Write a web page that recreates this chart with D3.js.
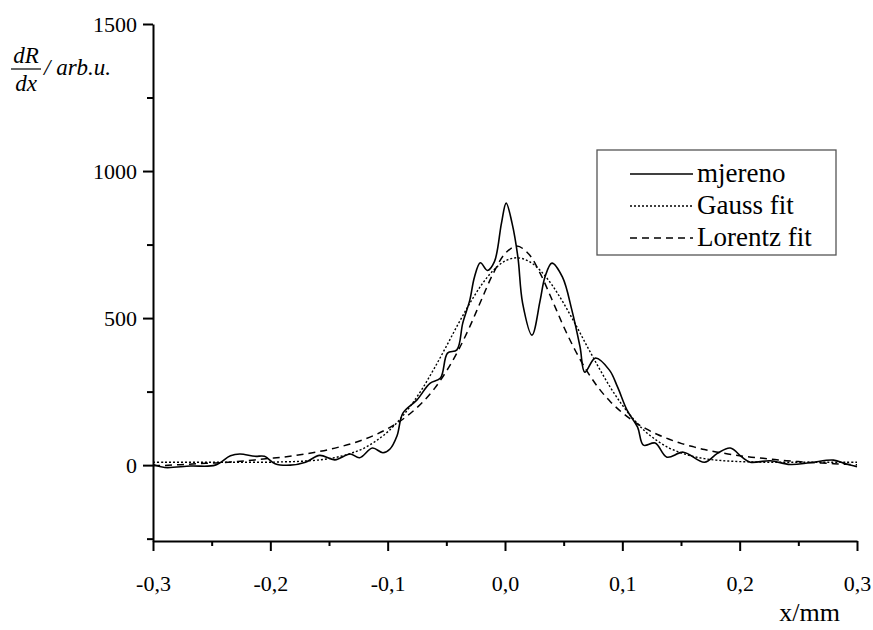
<!DOCTYPE html>
<html>
<head>
<meta charset="utf-8">
<script src="https://cdn.jsdelivr.net/npm/d3@7"></script>
<style>
  html, body { margin: 0; padding: 0; background: #fff; }
  svg { display: block; }
  svg text { font-family: "Liberation Serif", Tinos, "Times New Roman", Times, "DejaVu Serif", serif !important; fill: #000; }
</style>
</head>
<body>
<svg id="chart" width="873" height="630"></svg>
<script>
// ---- data ----
const measuredX = [-0.300,-0.290,-0.268,-0.247,-0.234,-0.226,-0.213,-0.205,-0.196,-0.183,-0.170,-0.158,-0.145,-0.132,-0.124,-0.113,-0.104,-0.098,-0.092,-0.087,-0.075,-0.064,-0.055,-0.049,-0.041,-0.036,-0.030,-0.026,-0.021,-0.015,-0.009,-0.003,0.001,0.006,0.011,0.015,0.023,0.030,0.034,0.040,0.049,0.057,0.064,0.068,0.077,0.089,0.096,0.104,0.113,0.118,0.128,0.138,0.152,0.170,0.181,0.192,0.202,0.209,0.226,0.243,0.260,0.280,0.290,0.300];
const measuredY = [2,-8,-3,0,32,38,30,30,5,0,10,33,18,38,25,58,42,55,100,177,222,278,296,381,392,483,561,640,688,662,692,823,891,823,707,551,442,561,639,687,639,527,401,316,364,323,265,187,129,68,75,27,44,10,40,58,27,10,15,2,8,17,5,-5];

const fitX = [-0.30,-0.29,-0.28,-0.27,-0.26,-0.25,-0.24,-0.23,-0.22,-0.21,-0.20,-0.19,-0.18,-0.17,-0.16,-0.15,-0.14,-0.13,-0.12,-0.11,-0.10,-0.09,-0.08,-0.07,-0.06,-0.05,-0.04,-0.03,-0.02,-0.01,0.00,0.01,0.02,0.03,0.04,0.05,0.06,0.07,0.08,0.09,0.10,0.11,0.12,0.13,0.14,0.15,0.16,0.17,0.18,0.19,0.20,0.21,0.22,0.23,0.24,0.25,0.26,0.27,0.28,0.29,0.30];
const gaussY = [10,10,10,10,10,10,10,10,10,10,10,11,12,14,17,22,30,42,58,82,113,154,204,263,331,404,479,550,613,662,694,705,694,662,613,550,479,404,331,263,204,154,113,82,58,42,30,22,17,14,12,11,10,10,10,10,10,10,10,10,10];
const lorentzY = [-2,-1,1,3,5,7,9,12,15,19,23,27,32,38,45,53,63,74,88,104,124,148,178,215,261,319,389,471,563,652,719,745,719,652,563,471,389,319,261,215,178,148,124,104,88,74,63,53,45,38,32,27,23,19,15,12,9,7,5,3,1];

const xMajorTicks = [-0.3,-0.2,-0.1,0.0,0.1,0.2,0.3];
const xMinorTicks = [-0.25,-0.15,-0.05,0.05,0.15,0.25];
const yMajorTicks = [0,500,1000,1500];
const yMinorTicks = [-250,250,750,1250];
const xDomain = [-0.3, 0.3];
const yDomain = [-258, 1500];

const seriesNames = ["mjereno", "Gauss fit", "Lorentz fit"];

// ---- drawing ----
const FONT = '"Liberation Serif", Tinos, "Times New Roman", Times, "DejaVu Serif", serif';
const svg = d3.select("#chart");
const x = d3.scaleLinear().domain(xDomain).range([153, 857]);
const y = d3.scaleLinear().domain(yDomain).range([541, 24]);

const fmtX = d => d3.format(".1f")(d).replace("\u2212", "-").replace(".", ",");

// curves
const line = d3.line().x(d => x(d[0])).y(d => y(d[1])).curve(d3.curveCatmullRom.alpha(0.5));
const measured = measuredX.map((v, i) => [v, measuredY[i]]);
const gauss = fitX.map((v, i) => [v, gaussY[i]]);
const lorentz = fitX.map((v, i) => [v, lorentzY[i]]);

const styles = [
  { dash: null, width: 1.6 },
  { dash: "2,2", width: 1.4 },
  { dash: "7,5", width: 1.5 }
];

const plot = svg.append("g");
[measured, gauss, lorentz].forEach((data, i) => {
  plot.append("path")
    .datum(data)
    .attr("d", line)
    .attr("fill", "none")
    .attr("stroke", "#000")
    .attr("stroke-width", styles[i].width)
    .attr("stroke-dasharray", styles[i].dash);
});

// x axis
const gx = svg.append("g").attr("transform", `translate(0,${y(yDomain[0])})`);
gx.call(d3.axisBottom(x).tickValues(xMajorTicks).tickSize(10).tickSizeOuter(0).tickPadding(24).tickFormat(fmtX));
gx.append("g").call(d3.axisBottom(x).tickValues(xMinorTicks).tickSize(5).tickSizeOuter(0).tickFormat(""))
  .select(".domain").remove();
gx.attr("font-family", FONT);
gx.selectAll("text").attr("font-size", 22).style("font-family", FONT);

// y axis
const gy = svg.append("g").attr("transform", `translate(${x(xDomain[0])},0)`);
gy.call(d3.axisLeft(y).tickValues(yMajorTicks).tickSize(10).tickSizeOuter(0).tickPadding(6).tickFormat(d3.format("d")));
gy.append("g").call(d3.axisLeft(y).tickValues(yMinorTicks).tickSize(6).tickSizeOuter(0).tickFormat(""))
  .select(".domain").remove();
gy.attr("font-family", FONT);
gy.selectAll("text").attr("font-size", 22).style("font-family", FONT);

svg.selectAll(".domain, .tick line").attr("stroke", "#000").attr("stroke-width", 2);

// x-axis title
svg.append("text").attr("x", 840).attr("y", 621).attr("text-anchor", "end")
  .attr("font-size", 26).style("font-family", FONT).text("x/mm");

// y-axis title: dR/dx / arb.u.
const yl = svg.append("g").style("font-family", FONT);
yl.append("text").attr("x", 26).attr("y", 63).attr("text-anchor", "middle")
  .attr("font-size", 23).attr("font-style", "italic").text("dR");
yl.append("line").attr("x1", 11).attr("x2", 41).attr("y1", 69).attr("y2", 69)
  .attr("stroke", "#000").attr("stroke-width", 1.2);
yl.append("text").attr("x", 26).attr("y", 91).attr("text-anchor", "middle")
  .attr("font-size", 23).attr("font-style", "italic").text("dx");
yl.append("text").attr("x", 44).attr("y", 75)
  .attr("font-size", 23).attr("font-style", "italic").text("/ arb.u.");

// legend
const lg = svg.append("g").style("font-family", FONT);
lg.append("rect").attr("x", 597).attr("y", 150).attr("width", 239).attr("height", 105)
  .attr("fill", "#fff").attr("stroke", "#555").attr("stroke-width", 1.3);
const rowY = [182, 214, 246];
seriesNames.forEach((name, i) => {
  lg.append("line").attr("x1", 630).attr("x2", 693)
    .attr("y1", rowY[i] - 8).attr("y2", rowY[i] - 8)
    .attr("stroke", "#000").attr("stroke-width", styles[i].width)
    .attr("stroke-dasharray", styles[i].dash);
  lg.append("text").attr("x", 697).attr("y", rowY[i]).attr("font-size", 27).text(name);
});
</script>
</body>
</html>
